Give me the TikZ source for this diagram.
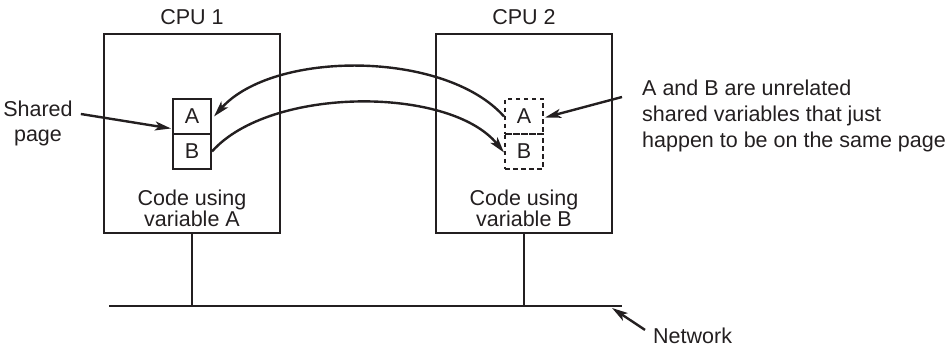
\documentclass[tikz,border=0pt]{standalone}
\usepackage{fontspec}
\setmainfont{Liberation Sans}
\usetikzlibrary{arrows.meta}
\definecolor{ink}{HTML}{231F20}
\begin{document}
\begin{tikzpicture}[x=1pt,y=-1pt,
  every node/.style={text=ink},
  lbl/.style={font=\fontsize{21.5}{25}\selectfont, inner sep=0pt, align=center},
  cpubox/.style={draw=ink, line width=2pt, minimum width=176pt, minimum height=199pt, inner sep=0pt},
  cell/.style={draw=ink, line width=2pt, minimum width=38pt, minimum height=35pt, inner sep=0pt, font=\fontsize{21.5}{25}\selectfont},
  dcell/.style={cell, dash pattern=on 4.5pt off 3.5pt},
  wire/.style={draw=ink, line width=2pt},
  arr/.style={draw=ink, line width=2.4pt, -{Stealth[length=16pt,width=9pt,inset=4pt]}}]
\useasboundingbox (0,0) rectangle (951,347);
% CPU boxes
\node[cpubox] (cpu1) at (192,133.5) {};
\node[cpubox] (cpu2) at (524,133.5) {};
\node[lbl] (t1) at (192,17) {CPU 1};
\node[lbl] (t2) at (524,17) {CPU 2};
% pages
\node[cell] (pA) at (192,116.5) {A};
\node[cell] (pB) at (192,151.5) {B};
\node[dcell] (dA) at (524,116.5) {A};
\node[dcell] (dB) at (524,151.5) {B};
% code labels
\node[lbl, font=\fontsize{21.5}{20}\selectfont] (c1) at (192,208) {Code using\\variable A};
\node[lbl, font=\fontsize{21.5}{20}\selectfont] (c2) at (524,208) {Code using\\variable B};
% network
\coordinate (n1) at (192,306);
\coordinate (n2) at (524,306);
\coordinate (nl) at (109,306);
\coordinate (nr) at (622,306);
\coordinate (nt) at (612,308);
\draw[wire] (cpu1.south) -- (n1);
\draw[wire] (cpu2.south) -- (n2);
\draw[wire] (nl) -- (nr);
\node[lbl, anchor=west] (net) at (653,336) {Network};
\draw[arr] ([xshift=-8pt,yshift=-2pt]net.north west) -- (nt);
% annotations
\node[lbl, anchor=west, align=left, font=\fontsize{21.5}{26}\selectfont] (ann) at (642,116)
  {A and B are unrelated\\shared variables that just\\happen to be on the same page};
\draw[arr] ([xshift=-20pt,yshift=19pt]ann.west) -- ([xshift=1pt,yshift=-1pt]dA.east);
\node[lbl] (sp) at (38,123) {Shared\\page};
\draw[arr] ([xshift=8pt,yshift=9pt]sp.east) -- ([xshift=-1pt,yshift=-12pt]pA.west);
% curved arrows
\draw[arr] (dA.west) .. controls (445,50) and (273,50) .. ([xshift=2pt]pA.east);
\draw[arr] (pB.east) .. controls (270,86) and (450,86) .. ([yshift=-1pt]dB.west);
\end{tikzpicture}
\end{document}
